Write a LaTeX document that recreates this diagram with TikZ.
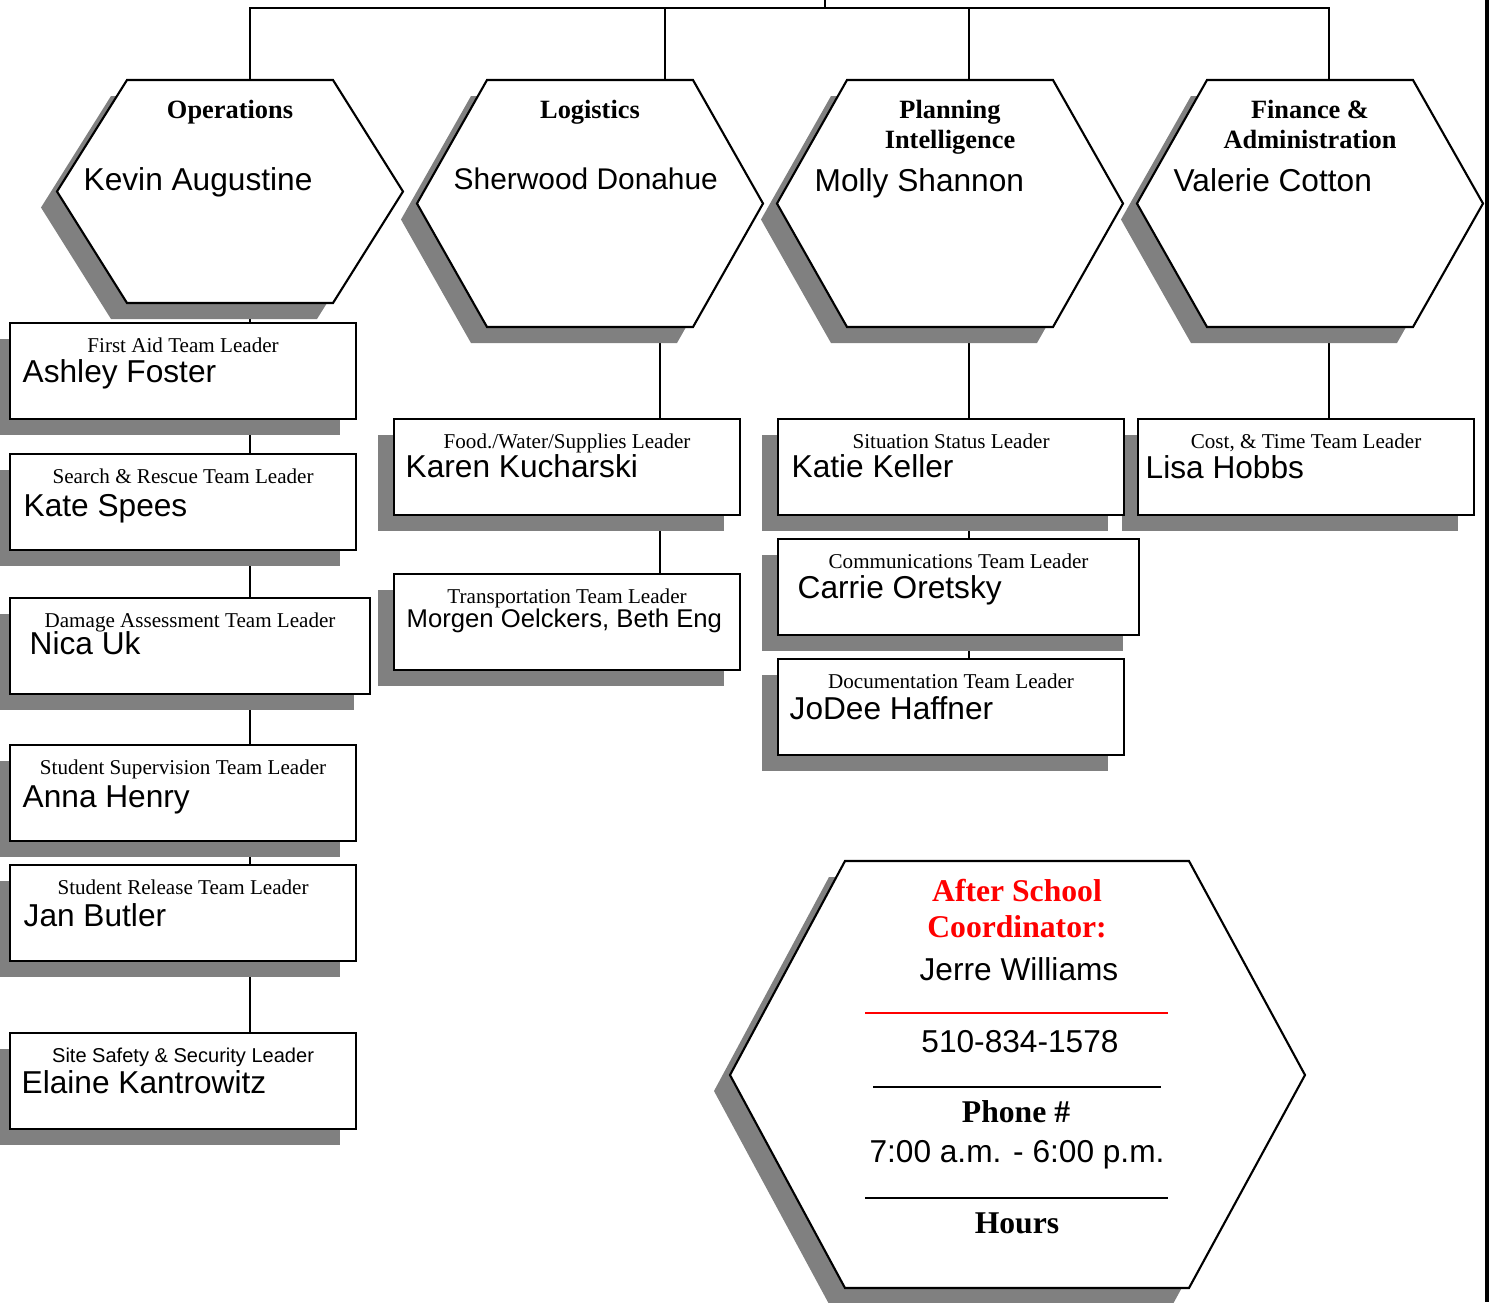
\documentclass[tikz,border=0pt]{standalone}
\usepackage{fontspec}
\setmainfont{Liberation Serif}
\setsansfont{Liberation Sans}
\usetikzlibrary{shadows,calc,backgrounds}

\tikzset{
  grayshadow/.style={drop shadow={shadow xshift=-0.16cm,shadow yshift=-0.16cm,fill=gray,opacity=1}},
  hexa/.style={draw,line width=0.6pt,fill=white,grayshadow},
  leader/.style={draw,line width=0.6pt,fill=white,grayshadow,anchor=north west,minimum height=0.96cm,inner sep=0pt},
  link/.style={line width=0.5pt},
  sect/.style={font=\bfseries\fontsize{7.5}{8.6}\selectfont,align=center,anchor=north,inner sep=0pt},
  role/.style={font=\fontsize{6}{7}\selectfont,anchor=base,inner sep=0pt},
  who/.style={font=\sffamily\fontsize{9}{10.8}\selectfont,anchor=base west,inner sep=0pt},
  hexline/.style={font=\sffamily\fontsize{9}{10.8}\selectfont,anchor=base,inner sep=0pt},
  hexhead/.style={font=\bfseries\fontsize{9}{10.8}\selectfont,anchor=base,inner sep=0pt},
}

\begin{document}
\begin{tikzpicture}[x=0.01cm,y=-0.01cm]
\useasboundingbox (0,0) rectangle (1490,1302);

% section hexagons
\foreach \id/\l/\b/\tx/\bx in {ops/57/303/250/250,log/417/327/665/660,pln/777/327/969/969,fin/1137/327/1329/1329}{
  \draw[hexa] (\l,{(80+\b)/2}) -- ({\l+70},80) -- ({\l+276},80) -- ({\l+346},{(80+\b)/2}) -- ({\l+276},\b) -- ({\l+70},\b) -- cycle;
  \coordinate (\id-t) at (\tx,80);
  \coordinate (\id-b) at (\bx,\b);
}
\node[sect] (ops-h) at (230,99) {Operations};
\node[sect] (log-h) at (590,99) {Logistics};
\node[sect] (pln-h) at (950,99) {Planning\\Intelligence};
\node[sect] (fin-h) at (1310,99) {Finance \&\\Administration};
\node[who] (ops-n) at (83,190) {Kevin Augustine};
\node[who,font=\sffamily\fontsize{8.5}{10}\selectfont] (log-n) at (453,189) {Sherwood Donahue};
\node[who] (pln-n) at (814,191) {Molly Shannon};
\node[who] (fin-n) at (1173,191) {Valerie Cotton};

% team leader boxes
\foreach \id/\x/\y/\w/\r/\n/\dx/\dy in {
  fa/9/322/346/First Aid Team Leader/Ashley Foster/13/60,
  sr/9/453/346/Search \& Rescue Team Leader/Kate Spees/14/63,
  da/9/597/360/Damage Assessment Team Leader/Nica Uk/20/57,
  sv/9/744/346/Student Supervision Team Leader/Anna Henry/13/63,
  rl/9/864/346/Student Release Team Leader/Jan Butler/14/62,
  sf/9/1032/346/{\sffamily\fontsize{5.7}{7}\selectfont Site Safety \& Security Leader}/Elaine Kantrowitz/12/61,
  fw/393/418/346/{Food./Water/Supplies Leader}/Karen Kucharski/12/59,
  tr/393/573/346/Transportation Team Leader/{\fontsize{7.3}{8.5}\selectfont Morgen Oelckers, Beth Eng}/13/54,
  lh/1137/418/336/{Cost, \& Time Team Leader}/Lisa Hobbs/8/60,
  ks/777/418/346/Situation Status Leader/Katie Keller/14/59,
  co/777/538/361/Communications Team Leader/Carrie Oretsky/20/60,
  dc/777/658/346/Documentation Team Leader/JoDee Haffner/12/61}{
  \node[leader,minimum width=\w*0.01cm] (\id) at (\x,\y) {};
  \node[role] (\id-r) at ($(\id.north)+(0,30.5)$) {\r};
  \node[who] (\id-n) at ($(\id.north west)+(\dx,\dy)$) {\n};
}

% after school coordinator
\draw[hexa] (730,1075) -- (845,861) -- (1189,861) -- (1305,1075) -- (1189,1288) -- (845,1288) -- cycle;
\node[hexhead,red] (asc-1) at (1017,901) {After School};
\node[hexhead,red] (asc-2) at (1017,937) {Coordinator:};
\node[hexline] (asc-name) at (1019,980) {Jerre Williams};
\draw[red,line width=0.3pt] (865,1013) -- (1168,1013);
\node[hexline] (asc-tel) at (1020,1052) {510-834-1578};
\draw[line width=0.7pt] (873,1087) -- (1161,1087);
\node[hexhead] (asc-3) at (1016,1122) {Phone \#};
\node[hexline] (asc-time) at (1017,1162) {7:00 a.m. - 6:00 p.m.};
\draw[line width=0.7pt] (865,1198) -- (1168,1198);
\node[hexhead] (asc-4) at (1017,1233) {Hours};

\draw[line width=1.1pt] (1487,0) -- (1487,1302);

% connectors
\begin{pgfonlayer}{background}
\coordinate (root) at (825,0);
\coordinate (bar) at (825,8);
\draw[link] (root) -- (bar);
\draw[link] (ops-t) |- (bar) -| (fin-t);
\draw[link] (log-t) -- (log-t |- bar);
\draw[link] (pln-t) -- (pln-t |- bar);
\draw[link] (ops-b) -- (ops-b |- fa.north);
\foreach \a/\b in {fa/sr,sr/da,da/sv,sv/rl,rl/sf}
  \draw[link] (\a.south -| ops-b) -- (\b.north -| ops-b);
\draw[link] (log-b) -- (log-b |- fw.north);
\draw[link] (fw.south -| log-b) -- (tr.north -| log-b);
\draw[link] (pln-b) -- (pln-b |- ks.north);
\foreach \a/\b in {ks/co,co/dc}
  \draw[link] (\a.south -| pln-b) -- (\b.north -| pln-b);
\draw[link] (fin-b) -- (fin-b |- lh.north);
\end{pgfonlayer}
\end{tikzpicture}
\end{document}
